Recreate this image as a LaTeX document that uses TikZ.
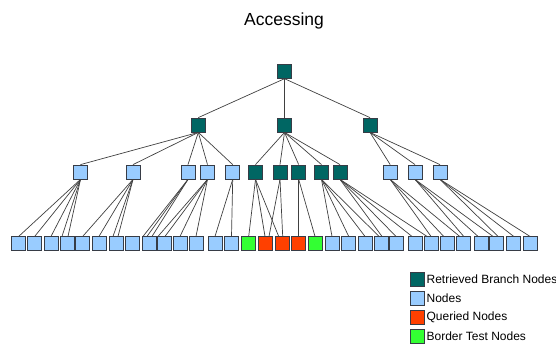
\documentclass[tikz,border=0pt]{standalone}
\usepackage{fontspec}
\setmainfont{Liberation Sans}
\definecolor{branch}{RGB}{0,102,99}
\definecolor{plain}{RGB}{153,204,255}
\definecolor{queried}{RGB}{255,64,0}
\definecolor{border}{RGB}{51,255,51}
\definecolor{edgegray}{RGB}{64,64,64}
\definecolor{framegray}{RGB}{55,60,70}
\begin{document}
\begin{tikzpicture}[x=1pt,y=-1pt,
  box/.style={draw=framegray,line width=0.8pt,minimum size=14pt,inner sep=0pt},
  br/.style={box,fill=branch},
  pl/.style={box,fill=plain},
  qu/.style={box,fill=queried},
  bd/.style={box,fill=border},
  link/.style={draw=edgegray,line width=0.7pt},
  legtext/.style={anchor=west,font=\fontsize{12}{14}\selectfont,inner sep=0pt}]
\useasboundingbox (0,0) rectangle (556,345);
\node[font=\fontsize{17.5}{20}\selectfont] (title) at (284,20.5) {Accessing};
% root and first level
\node[br] (root) at (284.5,71.3) {};
\node[br] (a) at (198.3,125) {};
\node[br] (b) at (284.5,125) {};
\node[br] (c) at (370,125) {};
% second level
\foreach \n/\x/\s in {n1/80.5/pl,n2/133/pl,n3/188/pl,n4/207.5/pl,n5/232.7/pl,
  t1/255.5/br,t2/280/br,t3/298.7/br,t4/321.5/br,t5/340/br,
  m1/390.2/pl,m2/415/pl,m3/440/pl}
  \node[\s] (\n) at (\x,172) {};
% leaves
\foreach \i/\x/\s in {1/18.7/pl,2/34.7/pl,3/51/pl,4/67/pl,5/82.7/pl,6/99/pl,7/116/pl,8/132/pl,
  9/149/pl,10/164/pl,11/180/pl,12/196/pl,13/215/pl,14/231.5/pl,15/248.7/bd,16/265/qu,
  17/282.7/qu,18/298.7/qu,19/315/bd,20/332/pl,21/348.7/pl,22/365/pl,23/381/pl,24/396/pl,
  25/415/pl,26/431/pl,27/447.7/pl,28/463.7/pl,29/481/pl,30/496/pl,31/513.7/pl,32/530/pl}
  \node[\s] (l\i) at (\x,243.8) {};
% connectors between the upper levels
\foreach \c in {a,b,c} \draw[link] (root.south) -- (\c.north);
\foreach \c in {n1,n2,n3,n4,n5} \draw[link] (a.south) -- (\c.north);
\foreach \c in {t1,t2,t3,t4,t5} \draw[link] (b.south) -- (\c.north);
\foreach \c in {m1,m2,m3} \draw[link] (c.south) -- (\c.north);
% connectors down to the leaves (parent / leaf / offset along the leaf top)
\foreach \p/\k/\d in {n1/1/0,n1/2/0,n1/3/0,n1/4/-5,n1/4/1,
  n2/5/0,n2/6/0,n2/7/-3,n2/7/2,
  n3/9/-6,n3/9/-2,n3/9/3,
  n4/10/-6,n4/10/1,n4/11/0,n4/12/0,
  n5/13/0,n5/14/0,
  t1/15/0,t1/16/0,t1/17/-4,
  t2/16/4,t2/17/0,
  t3/18/0,t3/19/0,
  t4/20/0,t4/21/0,t4/22/0,t4/23/-2,
  t5/23/1,t5/24/0,t5/25/-3,t5/26/-4,
  m1/26/0,m1/27/-4,m1/28/-4,
  m2/28/0,m2/29/-3,m2/30/-3,
  m3/30/2,m3/31/0,m3/32/0}
  \draw[link] (\p.south) -- ([xshift=\d pt]l\k.north);
% legend
\node[br] (k1) at (417,279) {};
\node[pl] (k2) at (417,298) {};
\node[qu] (k3) at (417,317) {};
\node[bd] (k4) at (417,336) {};
\node[legtext] (t1l) at ([xshift=2pt]k1.east) {Retrieved Branch Nodes};
\node[legtext] (t2l) at ([xshift=2pt]k2.east) {Nodes};
\node[legtext] (t3l) at ([xshift=2pt]k3.east) {Queried Nodes};
\node[legtext] (t4l) at ([xshift=2pt]k4.east) {Border Test Nodes};
\end{tikzpicture}
\end{document}
